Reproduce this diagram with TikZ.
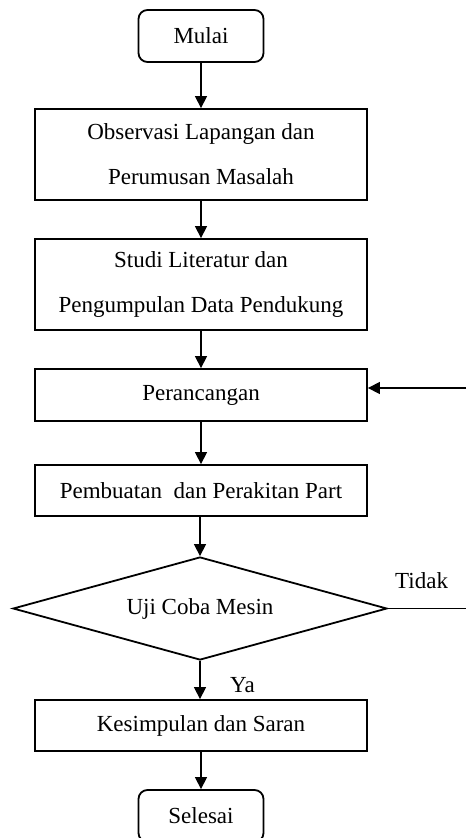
\documentclass[tikz,border=0pt]{standalone}
\usepackage{fontspec}
\setmainfont{Liberation Serif}
\usetikzlibrary{arrows.meta,shapes.geometric}
\begin{document}
\begin{tikzpicture}[x=1pt,y=-1pt,
  txt/.style={font=\fontsize{23}{45}\selectfont},
  box/.style={txt,draw,line width=1.8pt,minimum width=332pt,inner sep=0pt,align=center},
  term/.style={txt,draw,line width=1.8pt,rounded corners=9pt,minimum width=125pt,minimum height=52pt,inner sep=0pt},
  dec/.style={txt,draw,diamond,line width=1.8pt,aspect=3.6,minimum width=374pt,minimum height=103pt,inner sep=0pt},
  arr/.style={line width=1.3pt,-{Triangle[length=12pt,width=12pt]}},
  lin/.style={line width=1.4pt},
  lbl/.style={txt,inner sep=0pt}]
\clip (0,0) rectangle (466,838);
\node[term] (start) at (201,36) {Mulai};
\node[box,minimum height=91pt] (b1) at (201,154.5) {Observasi Lapangan dan\\Perumusan Masalah};
\node[box,minimum height=91pt] (b2) at (201,284.5) {Studi Literatur dan\\Pengumpulan Data Pendukung};
\node[box,minimum height=52pt] (b3) at (201,395) {Perancangan};
\node[box,minimum height=51pt] (b4) at (201,490.5) {Pembuatan\ \ dan Perakitan Part};
\node[dec] (d) at (200,608.5) {Uji Coba Mesin};
\node[box,minimum height=51pt] (b5) at (201,725.5) {Kesimpulan dan Saran};
\node[term] (end) at (201,816) {Selesai};
\draw[arr] (start.south) -- (start.south |- b1.north);
\draw[arr] (b1.south) -- (b1.south |- b2.north);
\draw[arr] (b2.south) -- (b2.south |- b3.north);
\draw[arr] (b3.south) -- (b3.south |- b4.north);
\draw[arr] (b4.south -| d.north) -- (d.north);
\draw[arr] (d.south) -- (d.south |- b5.north);
\draw[arr] (b5.south) -- (b5.south |- end.north);
\coordinate (r1) at (466,608.5);
\coordinate (r2) at (466,388);
\draw[lin] (d.east) -- (r1);
\draw[arr] (r2) -- (r2 -| b3.east);
\node[lbl,anchor=base west] (tidak) at (395,588) {Tidak};
\node[lbl,anchor=base west] (ya) at (230,692) {Ya};
\end{tikzpicture}
\end{document}
